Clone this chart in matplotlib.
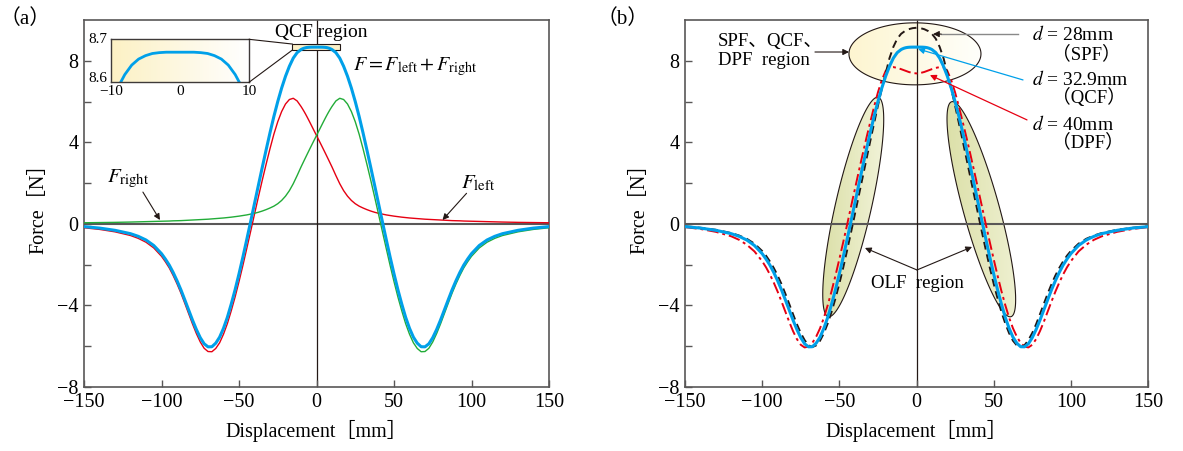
import numpy as np
import matplotlib
matplotlib.use("Agg")
import matplotlib.pyplot as plt
from matplotlib.patches import Polygon, Rectangle, ConnectionPatch
from matplotlib.colors import LinearSegmentedColormap
from matplotlib.ticker import FixedLocator

plt.rcParams['font.family'] = ['Liberation Serif', 'Noto Sans CJK SC']
plt.rcParams['mathtext.fontset'] = 'stix'
plt.rcParams['axes.unicode_minus'] = True

# ---------------- data ----------------
# displacement samples for x >= 0 (mm); the full grid is symmetric about 0
x_half_a = np.array([0, 1, 2, 3, 4, 5, 6, 7, 8, 9, 10,
                     12.5, 15, 17.5, 20, 22.5, 25, 27.5, 30, 32.5, 35, 37.5, 40,
                     42.5, 45, 47.5, 50, 52.5, 55, 57.5, 60, 62.5, 65, 67.5, 70,
                     72.5, 75, 77.5, 80, 82.5, 85, 87.5, 90, 92.5, 95, 97.5, 100,
                     105, 110, 115, 120, 130, 140, 150])
disp_a = np.concatenate([-x_half_a[:0:-1], x_half_a])

# force from the left magnet, from -150 mm to +150 mm (N)
F_left = np.array([
    -0.19, -0.27, -0.39, -0.57, -0.71, -0.90, -1.18, -1.59, -1.86, -2.16,
    -2.53, -2.94, -3.39, -3.89, -4.40, -4.91, -5.38, -5.79, -6.10, -6.26,
    -6.27, -6.11, -5.83, -5.41, -4.89, -4.26, -3.58, -2.83, -2.04, -1.21,
    -0.37, 0.48, 1.32, 2.14, 2.93, 3.69, 4.40, 5.01, 5.51, 5.88,
    6.10, 6.16, 6.03, 5.760, 5.639, 5.511, 5.376, 5.234, 5.087, 4.938,
    4.787, 4.636, 4.485,
    4.335, 4.185, 4.034, 3.882, 3.729, 3.575, 3.420, 3.264, 3.107, 2.949,
    2.790, 2.37, 1.97, 1.63, 1.36, 1.15, 0.99, 0.87, 0.78, 0.70,
    0.63, 0.57, 0.52, 0.48, 0.44, 0.41, 0.38, 0.355, 0.33, 0.31,
    0.29, 0.275, 0.26, 0.245, 0.23, 0.22, 0.21, 0.20, 0.19, 0.18,
    0.17, 0.16, 0.155, 0.15, 0.14, 0.135, 0.13, 0.12, 0.11, 0.10,
    0.09, 0.075, 0.065, 0.055])
# the right magnet acts as the mirror image of the left one
F_right = F_left[::-1]
F_total = F_left + F_right          # F = F_left + F_right (d = 32.9 mm, QCF)

# panel (b): profiles for x >= 0, even in displacement
x_half_b = np.array([0, 2.5, 5, 7.5, 10, 12.5, 15, 17.5, 20, 22.5,
                     25, 27.5, 30, 32.5, 35, 37.5, 40, 42.5, 45, 47.5,
                     50, 52.5, 55, 57.5, 60, 62.5, 65, 67.5, 70, 72.5,
                     75, 77.5, 80, 82.5, 85, 87.5, 90, 92.5, 95, 97.5,
                     100, 105, 110, 115, 120, 130, 140, 150])
F_spf_half = np.array([9.62, 9.60, 9.55, 9.46, 9.32, 9.08, 8.68, 8.13, 7.38, 6.62,
                       5.80, 4.93, 4.05, 3.15, 2.25, 1.35, 0.45, -0.44, -1.31, -2.15,
                       -2.93, -3.65, -4.31, -4.88, -5.36, -5.73, -5.96, -6.04, -5.95, -5.70,
                       -5.35, -4.92, -4.43, -3.92, -3.42, -2.95, -2.53, -2.16, -1.84, -1.56,
                       -1.33, -0.97, -0.73, -0.57, -0.45, -0.29, -0.19, -0.12])
F_dpf_half = np.array([7.38, 7.40, 7.45, 7.52, 7.59, 7.65, 7.69, 7.68, 7.50, 7.05,
                       6.45, 5.74, 4.98, 4.20, 3.38, 2.54, 1.68, 0.82, -0.05, -0.90,
                       -1.73, -2.53, -3.29, -3.98, -4.60, -5.12, -5.53, -5.84, -6.02, -6.06,
                       -5.93, -5.65, -5.26, -4.80, -4.30, -3.80, -3.32, -2.88, -2.48, -2.13,
                       -1.83, -1.35, -1.02, -0.78, -0.61, -0.39, -0.25, -0.16])
disp_b = np.concatenate([-x_half_b[:0:-1], x_half_b])
F_spf = np.concatenate([F_spf_half[:0:-1], F_spf_half])
F_dpf = np.concatenate([F_dpf_half[:0:-1], F_dpf_half])

x_ticks = [-150, -100, -50, 0, 50, 100, 150]
y_major = [-8, -4, 0, 4, 8]
y_minor = [-6, -2, 2, 6]
inset_x_ticks = [-10, 0, 10]
inset_y_ticks = [8.6, 8.7]

# ---------------- style ----------------
BLUE = '#00a0e9'
RED = '#e60012'
GREEN = '#22ac38'
INK = '#231815'
FRAME = '#595757'
FS = 14.5

fig = plt.figure(figsize=(11.83, 4.51), dpi=100)
ax1 = fig.add_axes([0.07101, 0.14191, 0.39307, 0.81375])
ax2 = fig.add_axes([0.57904, 0.14191, 0.39138, 0.81375])


def style_axes(ax):
    ax.set_xlim(-150, 150)
    ax.set_ylim(-8, 10)
    ax.xaxis.set_major_locator(FixedLocator(x_ticks))
    ax.yaxis.set_major_locator(FixedLocator(y_major))
    ax.yaxis.set_minor_locator(FixedLocator(y_minor))
    ax.tick_params(which='both', direction='in', length=5, width=1,
                   color=FRAME, labelsize=FS, pad=4)
    for s in ax.spines.values():
        s.set_color(FRAME)
        s.set_linewidth(1.2)
    ax.axhline(0, color=FRAME, lw=1.5, zorder=1.5)
    ax.axvline(0, color=INK, lw=0.9, zorder=1.5)
    ax.set_xlabel('Displacement［mm］', fontsize=FS, labelpad=6)
    ax.set_ylabel('Force［N］', fontsize=FS, labelpad=6)


style_axes(ax1)
style_axes(ax2)


def arrow(ax, tail, head, color=INK, lw=0.8):
    ax.annotate('', xy=head, xytext=tail,
                arrowprops=dict(arrowstyle='-|>', color=color, lw=lw,
                                mutation_scale=9, shrinkA=0, shrinkB=0),
                zorder=6)


def ellipse_points(ax, center, a_px, b_px, angle_deg, n=240):
    cx, cy = ax.transData.transform(center)
    t = np.linspace(0, 2 * np.pi, n)
    th = np.deg2rad(angle_deg)
    px = cx + a_px * np.cos(t) * np.cos(th) - b_px * np.sin(t) * np.sin(th)
    py = cy + a_px * np.cos(t) * np.sin(th) + b_px * np.sin(t) * np.cos(th)
    return ax.transData.inverted().transform(np.column_stack([px, py]))


def shaded_patch(ax, pts, c_left, c_right, z=1.2):
    poly = Polygon(pts, closed=True, facecolor='none', edgecolor=INK,
                   lw=0.8, zorder=z + 0.05)
    ax.add_patch(poly)
    x0, x1 = pts[:, 0].min(), pts[:, 0].max()
    y0, y1 = pts[:, 1].min(), pts[:, 1].max()
    cmap = LinearSegmentedColormap.from_list('shade', [c_left, c_right])
    im = ax.imshow(np.linspace(0, 1, 256).reshape(1, -1), extent=[x0, x1, y0, y1],
                   cmap=cmap, aspect='auto', origin='lower', zorder=z,
                   interpolation='bilinear')
    im.set_clip_path(poly)


# ---------------- panel (a) ----------------
ax1.plot(disp_a, F_left, color=RED, lw=1.0, zorder=3)
ax1.plot(disp_a, F_right, color=GREEN, lw=1.0, zorder=3)
ax1.plot(disp_a, F_total, color=BLUE, lw=2.2, zorder=4)

ax1.add_patch(Rectangle((-15.5, 8.53), 30.5, 0.29, facecolor='#fbf0c8',
                        edgecolor=INK, lw=0.8, zorder=2))
ax1.text(2.9, 9.18, 'QCF region', fontsize=14, ha='center', va='baseline')
ax1.text(23.5, 7.55, r'$F = F_{\rm left} + F_{\rm right}$', fontsize=14.5,
         ha='left', va='baseline')
ax1.text(-135, 2.05, r'$F_{\rm right}$', fontsize=15, ha='left', va='baseline')
ax1.text(93.5, 1.76, r'$F_{\rm left}$', fontsize=15, ha='left', va='baseline')
arrow(ax1, (-112, 1.56), (-101, 0.19))
arrow(ax1, (96.8, 1.5), (81.3, 0.19))

axins = fig.add_axes([0.09383, 0.81752, 0.11665, 0.09534])
axins.imshow(np.linspace(0, 1, 256).reshape(1, -1), extent=[-10, 10, 8.6, 8.7],
             cmap=LinearSegmentedColormap.from_list('ins', ['#fcf1c4', '#ffffff']),
             aspect='auto', origin='lower', zorder=0)
axins.plot(disp_a, F_total, color=BLUE, lw=2.0, zorder=2)
axins.set_xlim(-10, 10)
axins.set_ylim(8.6, 8.7)
axins.set_xticks([])
axins.set_yticks([])
for s in axins.spines.values():
    s.set_color('#3e3a39')
    s.set_linewidth(1.0)
for xv in inset_x_ticks:
    axins.text(xv, 8.594, f'{xv:g}'.replace('-', '\u2212'), fontsize=11,
               ha='center', va='top', transform=axins.transData, clip_on=False)
axins.text(-10.5, inset_y_ticks[1], f'{inset_y_ticks[1]:.1f}', fontsize=11,
           ha='right', va='center', clip_on=False)
axins.text(-10.5, inset_y_ticks[0], f'{inset_y_ticks[0]:.1f}', fontsize=11,
           ha='right', va='baseline', clip_on=False)
for xa, xb in [((1, 1), (-15.5, 8.82)), ((1, 0), (-15.5, 8.53))]:
    fig.add_artist(ConnectionPatch(xyA=xa, coordsA=axins.transAxes, xyB=xb,
                                   coordsB=ax1.transData, color=INK, lw=0.8))

# ---------------- panel (b) ----------------
shaded_patch(ax2, ellipse_points(ax2, (-1.0, 8.34), 66, 31, 0),
             '#fdf5d0', '#fffffb')
shaded_patch(ax2, ellipse_points(ax2, (-41.0, 0.83), 112.5, 18, 77.2),
             '#dce0a9', '#f1f3d8')
shaded_patch(ax2, ellipse_points(ax2, (42.0, 0.72), 111.5, 18, 105.4),
             '#dce0a9', '#eef0d0')

ax2.plot(disp_b, F_dpf, color=RED, lw=1.4, ls=(0, (6, 2, 1.5, 2)), zorder=3)
ax2.plot(disp_b, F_spf, color=INK, lw=1.4, ls=(0, (4, 2.5)), zorder=3)
ax2.plot(disp_a, F_total, color=BLUE, lw=2.2, zorder=4)

ax2.text(-128.6, 8.72, 'SPF、QCF、', fontsize=13.5, ha='left', va='baseline')
ax2.text(-128.6, 7.79, 'DPF  region', fontsize=13.5, ha='left', va='baseline')
arrow(ax2, (-65.8, 8.43), (-43.7, 8.43))

ax2.text(74.6, 9.02, r'$d$ = 28mm', fontsize=14, ha='left', va='baseline')
ax2.text(87.8, 8.07, '（SPF）', fontsize=13.5, ha='left', va='baseline')
ax2.text(74.6, 6.81, r'$d$ = 32.9mm', fontsize=14, ha='left', va='baseline')
ax2.text(87.8, 5.91, '（QCF）', fontsize=13.5, ha='left', va='baseline')
ax2.text(74.6, 4.60, r'$d$ = 40mm', fontsize=14, ha='left', va='baseline')
ax2.text(87.8, 3.74, '（DPF）', fontsize=13.5, ha='left', va='baseline')

ax2.plot([65.8, 16.0], [9.31, 9.31], color='#898989', lw=1.0, zorder=6)
arrow(ax2, (16.0, 9.31), (10.7, 9.31))
arrow(ax2, (69.0, 7.06), (1.0, 8.58), color=BLUE, lw=0.9)
arrow(ax2, (71.6, 5.10), (8.7, 7.30), color=RED, lw=0.9)

ax2.text(0.6, -3.14, 'OLF  region', fontsize=13.5, ha='center', va='baseline')
arrow(ax2, (0.3, -2.26), (-33.4, -1.18))
arrow(ax2, (0.3, -2.26), (36.0, -1.13))

for ax in (ax1, ax2):
    ax.set_xlim(-150, 150)
    ax.set_ylim(-8, 10)

fig.text(0.0, 0.947, '（a）', fontsize=15, va='baseline')
fig.text(0.504, 0.947, '（b）', fontsize=15, va='baseline')

fig.savefig('out.png', dpi=100)
